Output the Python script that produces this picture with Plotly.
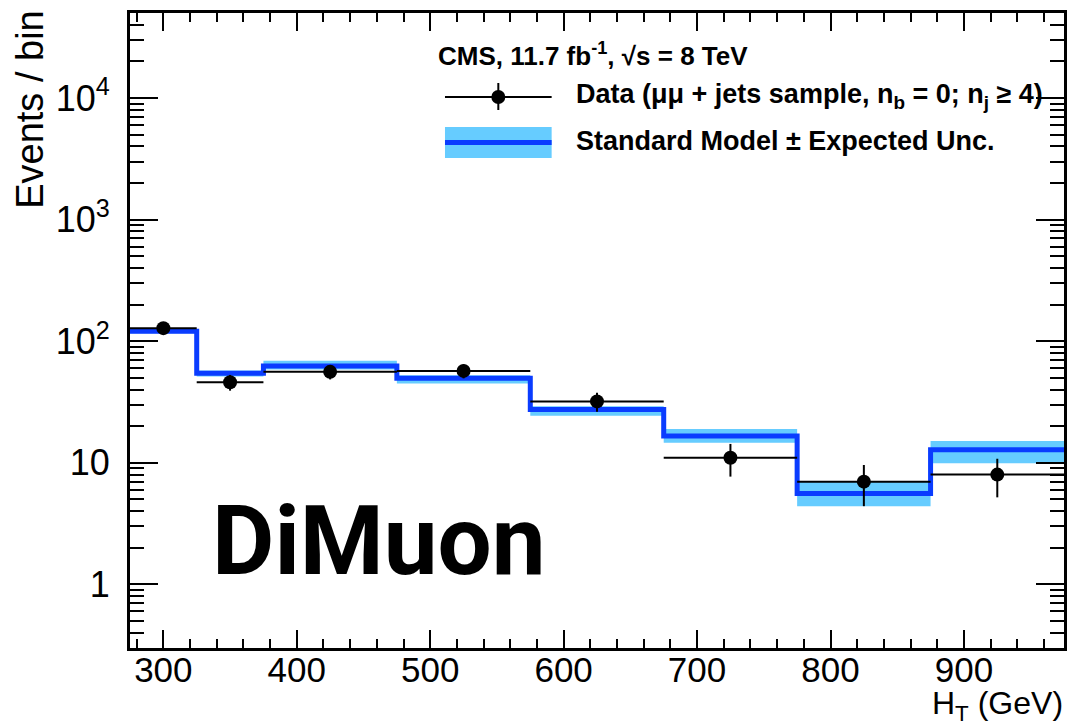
import numpy as np
import plotly.graph_objects as go

# H_T binning (GeV)
bin_edges = [275, 325, 375, 475, 575, 675, 775, 875, 975]
bin_centers = [300, 350, 425, 525, 625, 725, 825, 925]

# Observed events per bin (mumu + jets, n_b = 0, n_j >= 4)
data_counts = [128, 46, 56, 57, 32, 11, 7, 8]
data_err_up = [11.3, 6.8, 7.5, 7.5, 5.7, 3.3, 2.6, 2.8]
data_err_dn = [11.3, 6.8, 7.5, 7.5, 5.7, 3.3, 2.6, 2.8]

# Standard Model expectation and its uncertainty band
sm_expected = [121, 54.5, 62.5, 49.5, 27.5, 16.6, 5.6, 12.8]
sm_band_lo = [116, 51.3, 58.5, 45.0, 24.4, 14.6, 4.4, 9.9]
sm_band_hi = [125, 57.4, 69.0, 52.6, 29.2, 19.0, 6.95, 15.1]

# Axis tick labels
y_tick_vals = [1, 10, 100, 1000, 10000]
y_tick_text = ["1", "10", "10<sup>2</sup>", "10<sup>3</sup>", "10<sup>4</sup>"]
y_minor_vals = [m * 10.0 ** e for e in range(-1, 5) for m in range(2, 10)]

LIGHT_BLUE = "#66ccff"
BLUE = "#0a3cff"
FONT = "Liberation Sans, Arial, Helvetica, sans-serif"

half_widths = [(bin_edges[i + 1] - bin_edges[i]) / 2 for i in range(len(bin_centers))]

fig = go.Figure()

# Uncertainty band as a stepped fill between lower and upper edges
fig.add_trace(go.Scatter(
    x=bin_edges, y=sm_band_lo + [sm_band_lo[-1]],
    mode="lines", line=dict(shape="hv", width=0, color=LIGHT_BLUE),
    showlegend=False, hoverinfo="skip"))
fig.add_trace(go.Scatter(
    x=bin_edges, y=sm_band_hi + [sm_band_hi[-1]],
    mode="lines", line=dict(shape="hv", width=0, color=LIGHT_BLUE),
    fill="tonexty", fillcolor=LIGHT_BLUE,
    showlegend=False, hoverinfo="skip"))

# Standard Model expectation as a step histogram
fig.add_trace(go.Scatter(
    x=bin_edges, y=sm_expected + [sm_expected[-1]],
    mode="lines", line=dict(shape="hv", width=5, color=BLUE),
    showlegend=False))

# Data points with error bars
fig.add_trace(go.Scatter(
    x=bin_centers, y=data_counts, mode="markers",
    marker=dict(size=14, color="black"),
    error_x=dict(type="data", array=half_widths, color="black", thickness=2, width=0),
    error_y=dict(type="data", array=data_err_up, arrayminus=data_err_dn,
                 color="black", thickness=2, width=0),
    showlegend=False))

# Layout helpers: pixel position -> paper fraction
L, R, T, B = 130, 2, 13, 80
W, H = 1069, 728
PW, PH = W - L - R, H - T - B


def px(xp):
    return (xp - L) / PW


def py(yp):
    return (H - B - yp) / PH


shapes = []
annotations = []

# Legend: data entry
shapes.append(dict(type="line", xref="paper", yref="paper",
                   x0=px(446), x1=px(553), y0=py(97), y1=py(97),
                   line=dict(color="black", width=2)))
shapes.append(dict(type="line", xref="paper", yref="paper",
                   x0=px(499.5), x1=px(499.5), y0=py(83), y1=py(110),
                   line=dict(color="black", width=2)))
shapes.append(dict(type="circle", xref="paper", yref="paper",
                   x0=px(492.5), x1=px(506.5), y0=py(104), y1=py(90),
                   fillcolor="black", line=dict(color="black", width=0)))
# Legend: SM entry
shapes.append(dict(type="rect", xref="paper", yref="paper",
                   x0=px(446), x1=px(553), y0=py(158), y1=py(127),
                   fillcolor=LIGHT_BLUE, line=dict(width=0)))
shapes.append(dict(type="line", xref="paper", yref="paper",
                   x0=px(446), x1=px(553), y0=py(142.5), y1=py(142.5),
                   line=dict(color=BLUE, width=5)))

annotations.append(dict(
    xref="paper", yref="paper", x=px(437), y=py(54), xanchor="left", yanchor="middle",
    text="<b>CMS, 11.7 fb<sup>-1</sup>, √s = 8 TeV</b>", showarrow=False,
    font=dict(family=FONT, size=26, color="black")))
annotations.append(dict(
    xref="paper", yref="paper", x=px(575), y=py(96), xanchor="left", yanchor="middle",
    text="<b>Data (μμ + jets sample, n<sub>b</sub> = 0; n<sub>j</sub> ≥ 4)</b>", showarrow=False,
    font=dict(family=FONT, size=27, color="black")))
annotations.append(dict(
    xref="paper", yref="paper", x=px(575), y=py(141), xanchor="left", yanchor="middle",
    text="<b>Standard Model ± Expected Unc.</b>", showarrow=False,
    font=dict(family=FONT, size=27, color="black")))

# Channel label
annotations.append(dict(
    xref="paper", yref="paper", x=px(210), y=py(541), xanchor="left", yanchor="middle",
    text="<b>DiMuon</b>", showarrow=False,
    font=dict(family="Roboto, Inter, sans-serif", size=96, color="black")))

# Axis titles
annotations.append(dict(
    xref="paper", yref="paper", x=px(29), y=py(8), xanchor="center", yanchor="top",
    text="Events / bin", textangle=-90, showarrow=False,
    font=dict(family=FONT, size=38, color="black")))
annotations.append(dict(
    xref="paper", yref="paper", x=px(1068), y=py(727.5), xanchor="right", yanchor="bottom",
    text="H<sub>T</sub> (GeV)", showarrow=False,
    font=dict(family=FONT, size=32, color="black")))

fig.update_layout(
    width=W, height=H,
    margin=dict(l=L, r=R, t=T, b=B, pad=0),
    paper_bgcolor="white", plot_bgcolor="white",
    showlegend=False,
    shapes=shapes, annotations=annotations,
    font=dict(family=FONT, color="black"),
)

fig.update_xaxes(
    range=[275, 975], showgrid=False, zeroline=False,
    showline=True, linecolor="black", linewidth=3, mirror="allticks",
    ticks="inside", ticklen=18, tickwidth=2, tickcolor="black",
    tick0=300, dtick=100, tickfont=dict(family=FONT, size=35, color="black"),
    ticklabelstandoff=-11,
    minor=dict(ticks="inside", ticklen=9, tickwidth=2, tickcolor="black", dtick=20, tick0=300,
               showgrid=False),
)

fig.update_yaxes(
    type="log", range=[np.log10(0.3), np.log10(50000)], showgrid=False, zeroline=False,
    showline=True, linecolor="black", linewidth=3, mirror="allticks",
    ticks="inside", ticklen=28, tickwidth=2, tickcolor="black",
    tickvals=y_tick_vals, ticktext=y_tick_text,
    tickfont=dict(family=FONT, size=36, color="black"),
    ticklabelstandoff=10,
    minor=dict(ticks="inside", ticklen=14, tickwidth=2, tickcolor="black",
               tickvals=y_minor_vals, showgrid=False),
)

fig.write_html("out.html")
